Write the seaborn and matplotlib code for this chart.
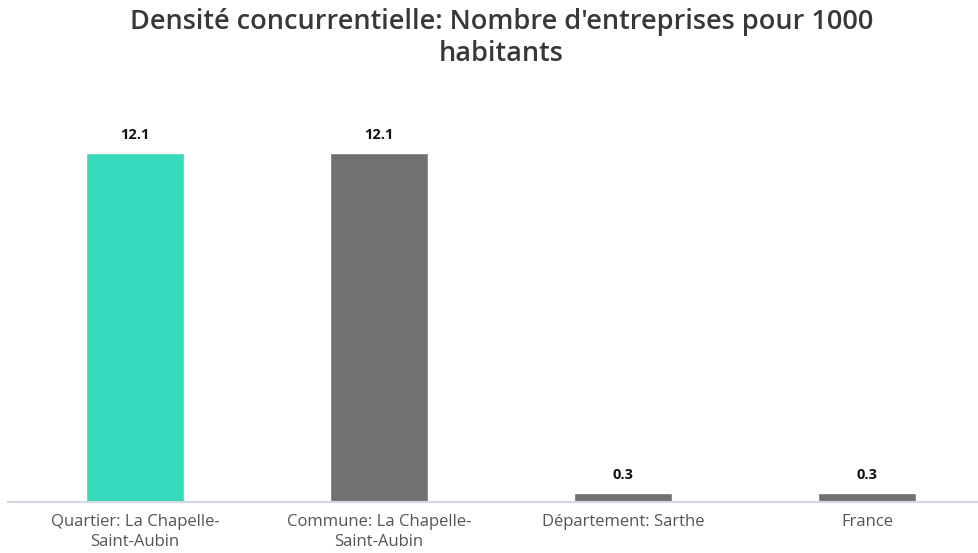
import matplotlib
matplotlib.use("Agg")
import matplotlib.pyplot as plt
import seaborn as sns
import pandas as pd

categories = ["Quartier: La Chapelle-\nSaint-Aubin", "Commune: La Chapelle-\nSaint-Aubin",
              "Département: Sarthe", "France"]
values = [12.1, 12.1, 0.3, 0.3]
labels = ["12.1", "12.1", "0.3", "0.3"]
colors = ["#36d9b9", "#717171", "#717171", "#717171"]

df = pd.DataFrame({"cat": categories, "val": values})

sns.set_theme(style="white")
plt.rcParams["font.family"] = ["Open Sans", "DejaVu Sans"]

W, H = 979, 553
fig = plt.figure(figsize=(W / 100, H / 100), dpi=100)
ax_top, ax_bot = 100, 502
ax = fig.add_axes([8 / W, 1 - ax_bot / H, 1 - 8 / W, (ax_bot - ax_top) / H])

sns.barplot(data=df, x="cat", y="val", hue="cat", palette=colors, legend=False,
            width=0.4, saturation=1, ax=ax)

ax.set_xlim(-0.52, 3 + (W - 867) / 244)
ax.set_ylim(0, 12.1 * (ax_bot - ax_top) / 349)

for i, (v, t) in enumerate(zip(values, labels)):
    ax.annotate(t, (i, v), xytext=(0, 8), textcoords="offset points",
                ha="center", va="bottom", fontsize=10.5, fontweight="bold", color="#111111")

for s in ["top", "right", "left"]:
    ax.spines[s].set_visible(False)
ax.spines["bottom"].set_color("#d3d8e4")
ax.spines["bottom"].set_linewidth(1.5)
ax.set_yticks([])
ax.set_xlabel("")
ax.set_ylabel("")
ax.tick_params(axis="x", length=0, pad=9, labelsize=12, labelcolor="#555555")
for lab in ax.get_xticklabels():
    lab.set_linespacing(1.25)

fig.text(0.512, 1 - 38 / H, "Densité concurrentielle: Nombre d'entreprises pour 1000\nhabitants",
         ha="center", va="center", fontsize=19.5, fontweight="semibold", color="#383838",
         linespacing=1.15)

fig.savefig("out.png", dpi=100)
